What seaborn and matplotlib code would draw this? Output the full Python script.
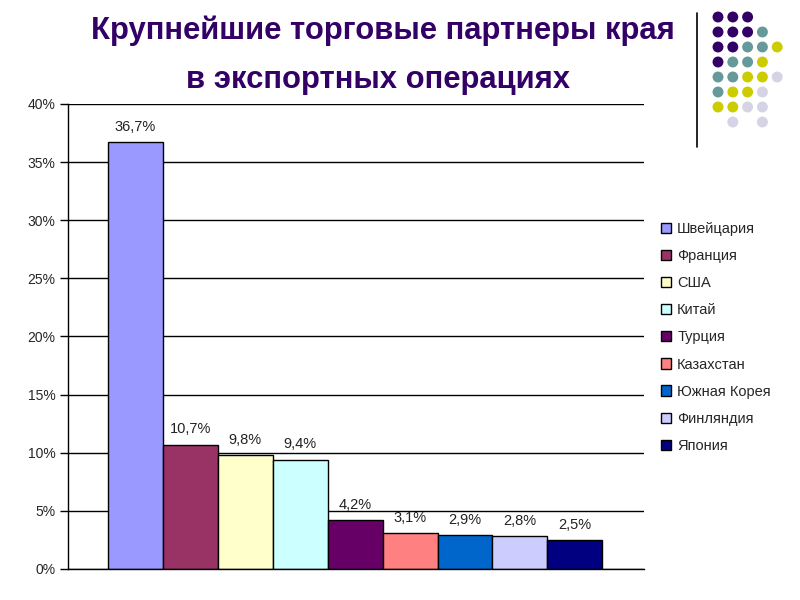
import pandas as pd
import matplotlib.pyplot as plt
import seaborn as sns

# data
countries = ['Швейцария', 'Франция', 'США', 'Китай', 'Турция',
             'Казахстан', 'Южная Корея', 'Финляндия', 'Япония']
shares = [36.7, 10.7, 9.8, 9.4, 4.2, 3.1, 2.9, 2.8, 2.5]
colors = ['#9999FF', '#993366', '#FFFFCC', '#CCFFFF', '#660066',
          '#FF8080', '#0066CC', '#CCCCFF', '#000080']
y_ticks = [0, 5, 10, 15, 20, 25, 30, 35, 40]

# decorative dot grid (top right corner)
dot_rows = ['PPP..', 'PPPT.', 'PPTTY', 'PTTY.', 'TTYYL', 'TYYL.', 'YYLL.', '.L.L.']
dot_colors = {'P': '#330066', 'T': '#669999', 'Y': '#CCCC00', 'L': '#D4D4E4'}

sns.set_theme(style='white')
plt.rcParams['font.family'] = ['Liberation Sans', 'DejaVu Sans']

df = pd.DataFrame({'country': countries, 'share': shares})

fig = plt.figure(figsize=(8, 6), dpi=100)
ax = fig.add_axes([0.085, 0.0517, 0.72, 0.775])

sns.barplot(data=df, x='country', y='share', hue='country', palette=colors,
            saturation=1, width=1, edgecolor='black', linewidth=1,
            legend=True, ax=ax)

for c in ax.containers:
    ax.bar_label(c, fmt=lambda v: f'{v:.1f}%'.replace('.', ','), padding=6,
                 fontsize=10.5, color='#222222')

ax.set_ylim(0, 40)
ax.set_xlim(-1.23, 9.26)
ax.set_yticks(y_ticks)
ax.set_yticklabels([f'{t}%' for t in y_ticks], fontsize=10)
ax.set_xticks([])
ax.set_xlabel('')
ax.set_ylabel('')
ax.grid(axis='y', color='black', linewidth=1)
ax.set_axisbelow(True)
for s in ['top', 'right']:
    ax.spines[s].set_visible(False)
for s in ['left', 'bottom']:
    ax.spines[s].set_color('black')
    ax.spines[s].set_linewidth(1)
ax.tick_params(axis='y', which='major', left=True, length=6, width=1,
               color='black', pad=3)

leg = ax.legend(loc='upper left', bbox_to_anchor=(0.81, 0.652),
                bbox_transform=fig.transFigure, frameon=False, fontsize=10.5,
                handlelength=0.7, handleheight=0.7, handletextpad=0.4,
                labelspacing=0.9)

# title
fig.text(0.478, 0.948, 'Крупнейшие торговые партнеры края', ha='center',
         va='center', fontsize=22.3, fontweight='bold', color='#330066')
fig.text(0.473, 0.867, 'в экспортных операциях', ha='center',
         va='center', fontsize=22.3, fontweight='bold', color='#330066')

# decoration overlay
deco = fig.add_axes([0, 0, 1, 1], facecolor='none')
deco.set_xlim(0, 800)
deco.set_ylim(600, 0)
deco.axis('off')
deco.plot([697, 697], [13, 147], color='black', linewidth=1.2)
for r, row in enumerate(dot_rows):
    for c, ch in enumerate(row):
        if ch != '.':
            deco.scatter(718 + c * 14.8, 17 + r * 15, s=62,
                         color=dot_colors[ch], edgecolor='none')

fig.savefig('out.png', dpi=100)
